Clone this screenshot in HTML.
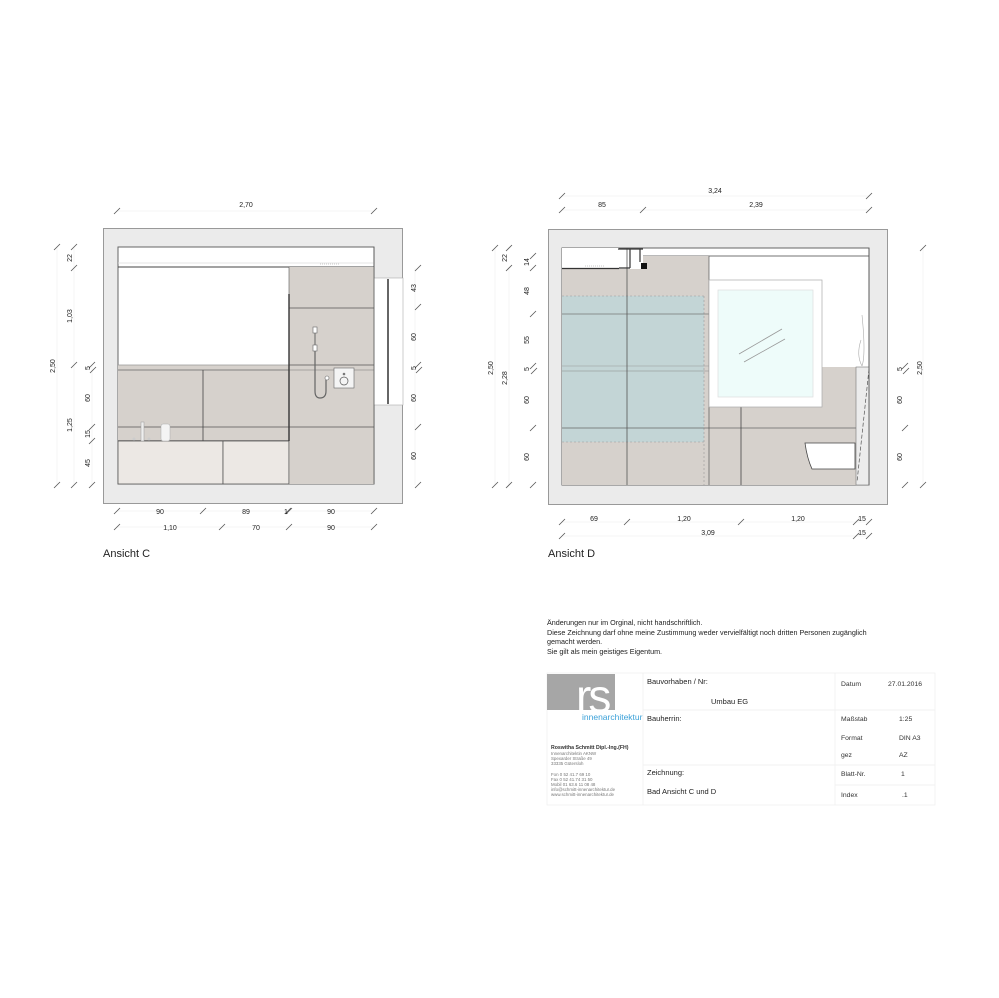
<!DOCTYPE html>
<html><head><meta charset="utf-8"><style>
html,body{margin:0;padding:0;background:#fff;}
svg{display:block;font-family:"Liberation Sans",sans-serif;}
</style></head><body>
<svg width="999" height="998" viewBox="0 0 999 998" xmlns="http://www.w3.org/2000/svg">
<rect width="999" height="998" fill="#fff"/>
<defs>
<g id="tk"><line x1="-3" y1="3" x2="3" y2="-3" stroke="#555" stroke-width="0.8"/></g>
</defs>

<!-- ===== ANSICHT C ===== -->
<g>
<!-- walls -->
<rect x="103.5" y="228.5" width="299" height="275" fill="#ebebeb" stroke="#999" stroke-width="1"/>
<rect x="118" y="247" width="256" height="237" fill="#fff" stroke="#666" stroke-width="1"/>
<rect x="374" y="278" width="29" height="127" fill="#fff" stroke="#aaa" stroke-width="0.6"/>
<line x1="388" y1="279" x2="388" y2="404" stroke="#333" stroke-width="1.5"/>
<!-- top strip -->
<line x1="118" y1="263" x2="374" y2="263" stroke="#ddd" stroke-width="0.8"/>
<line x1="118" y1="267" x2="374" y2="267" stroke="#444" stroke-width="1"/>
<!-- left tiles -->
<rect x="118" y="365" width="171" height="76" fill="#d6d1cc"/>
<line x1="118" y1="365" x2="289" y2="365" stroke="#999" stroke-width="0.8"/>
<line x1="118" y1="370" x2="289" y2="370" stroke="#666" stroke-width="0.8"/>
<line x1="118" y1="427" x2="289" y2="427" stroke="#555" stroke-width="0.8"/>
<line x1="203" y1="370" x2="203" y2="441" stroke="#444" stroke-width="0.8"/>
<line x1="118" y1="441" x2="289" y2="441" stroke="#333" stroke-width="1.2"/>
<!-- vanity -->
<rect x="118" y="441" width="105" height="43" fill="#ece8e4" stroke="#555" stroke-width="0.8"/>
<rect x="223" y="441" width="66" height="43" fill="#ece8e4" stroke="#555" stroke-width="0.8"/>
<!-- bottles / taps -->
<rect x="141" y="422" width="3" height="19" fill="#eee" stroke="#999" stroke-width="0.5"/>
<rect x="161" y="424" width="9" height="17" rx="2" fill="#f4f4f4" stroke="#aaa" stroke-width="0.5"/>
<circle cx="134" cy="439" r="1.5" fill="#ccc"/><circle cx="149" cy="439" r="1.5" fill="#ccc"/>
<!-- shower tiles -->
<rect x="289" y="267" width="85" height="217" fill="#d6d1cc"/>
<line x1="289" y1="308" x2="374" y2="308" stroke="#555" stroke-width="0.8"/>
<line x1="289" y1="365" x2="374" y2="365" stroke="#555" stroke-width="0.8"/>
<line x1="289" y1="370" x2="374" y2="370" stroke="#777" stroke-width="0.6"/>
<line x1="289" y1="427" x2="374" y2="427" stroke="#555" stroke-width="0.8"/>
<line x1="289" y1="294" x2="289" y2="441" stroke="#222" stroke-width="1.4"/>
<line x1="289" y1="267" x2="289" y2="484" stroke="#555" stroke-width="0.6"/>
<line x1="374" y1="247" x2="374" y2="484" stroke="#555" stroke-width="0.8"/>
<!-- shower fittings -->
<rect x="313" y="327" width="4" height="6" fill="#fff" stroke="#666" stroke-width="0.6"/>
<rect x="313" y="345" width="4" height="6" fill="#fff" stroke="#666" stroke-width="0.6"/>
<line x1="315" y1="333" x2="315" y2="345" stroke="#666" stroke-width="1"/>
<path d="M315 351 V391 Q315 398 320 398 Q326 398 326 391 V380" fill="none" stroke="#666" stroke-width="1.2"/>
<circle cx="327" cy="378" r="2" fill="#fff" stroke="#666" stroke-width="0.6"/>
<rect x="334" y="368" width="20" height="20" fill="#f4f4f4" stroke="#666" stroke-width="0.6"/>
<circle cx="344" cy="381" r="4" fill="none" stroke="#555" stroke-width="0.7"/>
<circle cx="344" cy="374" r="1.3" fill="#777"/>
<line x1="320" y1="264" x2="340" y2="264" stroke="#bbb" stroke-width="0.8" stroke-dasharray="1 1"/>
</g>

<!-- dims C -->
<g font-size="7" fill="#222" text-anchor="middle">
<line x1="117" y1="211" x2="374" y2="211" stroke="#eee" stroke-width="0.6"/>
<use href="#tk" x="117" y="211"/><use href="#tk" x="374" y="211"/>
<text x="246" y="207">2,70</text>
<line x1="117" y1="511" x2="374" y2="511" stroke="#eee" stroke-width="0.6"/>
<line x1="117" y1="527" x2="374" y2="527" stroke="#eee" stroke-width="0.6"/>
<use href="#tk" x="117" y="511"/><use href="#tk" x="203" y="511"/><use href="#tk" x="288" y="511"/><use href="#tk" x="289" y="511"/><use href="#tk" x="374" y="511"/>
<use href="#tk" x="117" y="527"/><use href="#tk" x="222" y="527"/><use href="#tk" x="289" y="527"/><use href="#tk" x="374" y="527"/>
<text x="160" y="514">90</text><text x="246" y="514">89</text><text x="286" y="514">1</text><text x="331" y="514">90</text>
<text x="170" y="530">1,10</text><text x="256" y="530">70</text><text x="331" y="530">90</text>
<line x1="57" y1="247" x2="57" y2="485" stroke="#eee" stroke-width="0.6"/>
<line x1="74" y1="247" x2="74" y2="485" stroke="#eee" stroke-width="0.6"/>
<line x1="92" y1="365" x2="92" y2="485" stroke="#eee" stroke-width="0.6"/>
<use href="#tk" x="57" y="247"/><use href="#tk" x="57" y="485"/>
<use href="#tk" x="74" y="247"/><use href="#tk" x="74" y="268"/><use href="#tk" x="74" y="365"/><use href="#tk" x="74" y="485"/>
<use href="#tk" x="92" y="365"/><use href="#tk" x="93" y="370"/><use href="#tk" x="92" y="427"/><use href="#tk" x="92" y="441"/><use href="#tk" x="92" y="485"/>
<text transform="translate(55,366) rotate(-90)">2,50</text>
<text transform="translate(72,258) rotate(-90)">22</text>
<text transform="translate(72,316) rotate(-90)">1,03</text>
<text transform="translate(72,425) rotate(-90)">1,25</text>
<text transform="translate(90,368) rotate(-90)">5</text>
<text transform="translate(90,398) rotate(-90)">60</text>
<text transform="translate(90,434) rotate(-90)">15</text>
<text transform="translate(90,463) rotate(-90)">45</text>
<line x1="415" y1="268" x2="415" y2="485" stroke="#eee" stroke-width="0.6"/>
<use href="#tk" x="418" y="268"/><use href="#tk" x="418" y="307"/><use href="#tk" x="418" y="365"/><use href="#tk" x="419" y="370"/><use href="#tk" x="418" y="427"/><use href="#tk" x="418" y="485"/>
<text transform="translate(416,288) rotate(-90)">43</text>
<text transform="translate(416,337) rotate(-90)">60</text>
<text transform="translate(416,368) rotate(-90)">5</text>
<text transform="translate(416,398) rotate(-90)">60</text>
<text transform="translate(416,456) rotate(-90)">60</text>
</g>
<text x="103" y="557" font-size="11" fill="#222">Ansicht C</text>

<!-- ===== ANSICHT D ===== -->
<g>
<rect x="548.5" y="229.5" width="339" height="275" fill="#ebebeb" stroke="#999" stroke-width="1"/>
<rect x="562" y="248" width="307" height="237" fill="#fff" stroke="#666" stroke-width="1"/>
<line x1="643" y1="256" x2="869" y2="256" stroke="#444" stroke-width="0.8"/>
<!-- tiles left area -->
<rect x="562" y="269" width="147" height="216" fill="#d6d1cc"/>
<rect x="643" y="256" width="66" height="13" fill="#d6d1cc"/>
<rect x="709" y="367" width="147" height="118" fill="#d6d1cc"/>
<!-- glass shower -->
<rect x="562" y="296" width="142" height="146" fill="#c3d5d6"/>
<line x1="562" y1="296" x2="704" y2="296" stroke="#999" stroke-width="0.6" stroke-dasharray="2 2"/>
<line x1="562" y1="442" x2="704" y2="442" stroke="#999" stroke-width="0.6" stroke-dasharray="2 2"/>
<line x1="704" y1="296" x2="704" y2="485" stroke="#999" stroke-width="0.6" stroke-dasharray="2 2"/>
<line x1="562" y1="314" x2="709" y2="314" stroke="#777" stroke-width="0.7"/>
<line x1="562" y1="366" x2="709" y2="366" stroke="#999" stroke-width="0.5"/>
<line x1="562" y1="371" x2="709" y2="371" stroke="#888" stroke-width="0.6"/>
<line x1="562" y1="428" x2="856" y2="428" stroke="#666" stroke-width="0.7"/>
<line x1="627" y1="248" x2="627" y2="485" stroke="#555" stroke-width="0.8"/>
<line x1="741" y1="407" x2="741" y2="485" stroke="#444" stroke-width="0.8"/>
<line x1="709" y1="256" x2="709" y2="485" stroke="#555" stroke-width="0.7"/>
<!-- top-left white box and beam -->
<rect x="562" y="248" width="57" height="21" fill="#fff"/>
<line x1="562" y1="268.5" x2="619" y2="268.5" stroke="#333" stroke-width="1.2"/>
<line x1="585" y1="266" x2="605" y2="266" stroke="#bbb" stroke-width="0.8" stroke-dasharray="1 1"/>
<path d="M618 249 H643 M630 249 V268 M640 249 V262 M630 268 H619" fill="none" stroke="#333" stroke-width="1.2"/>
<rect x="641" y="263" width="6" height="6" fill="#111"/>
<!-- window -->
<rect x="709" y="280" width="113" height="127" fill="#fff" stroke="#aaa" stroke-width="0.7"/>
<rect x="718" y="290" width="95" height="107" fill="#eefcfa" stroke="#ddd" stroke-width="0.7"/>
<line x1="739" y1="354" x2="782" y2="329" stroke="#999" stroke-width="0.8"/>
<line x1="744" y1="362" x2="785" y2="339" stroke="#999" stroke-width="0.8"/>
<!-- cabinet / toilet -->
<rect x="856" y="367" width="13" height="118" fill="#ececec" stroke="#777" stroke-width="0.6"/>
<line x1="869" y1="369" x2="857" y2="482" stroke="#555" stroke-width="0.7" stroke-dasharray="4 2"/>
<path d="M862 366 Q856 355 861 340 M862 366 Q866 355 862 315" fill="none" stroke="#aaa" stroke-width="0.6"/>
<path d="M805 443 H855 V469 H812 Q807 458 805 443 Z" fill="#fff" stroke="#444" stroke-width="0.8"/>
<line x1="869" y1="248" x2="869" y2="485" stroke="#555" stroke-width="0.8"/>
</g>

<!-- dims D -->
<g font-size="7" fill="#222" text-anchor="middle">
<line x1="562" y1="196" x2="869" y2="196" stroke="#eee" stroke-width="0.6"/>
<line x1="562" y1="210" x2="869" y2="210" stroke="#eee" stroke-width="0.6"/>
<use href="#tk" x="562" y="196"/><use href="#tk" x="869" y="196"/>
<use href="#tk" x="562" y="210"/><use href="#tk" x="643" y="210"/><use href="#tk" x="869" y="210"/>
<text x="715" y="193">3,24</text><text x="602" y="207">85</text><text x="756" y="207">2,39</text>
<line x1="562" y1="522" x2="869" y2="522" stroke="#eee" stroke-width="0.6"/>
<line x1="562" y1="536" x2="869" y2="536" stroke="#eee" stroke-width="0.6"/>
<use href="#tk" x="562" y="522"/><use href="#tk" x="627" y="522"/><use href="#tk" x="741" y="522"/><use href="#tk" x="856" y="522"/><use href="#tk" x="869" y="522"/>
<use href="#tk" x="562" y="536"/><use href="#tk" x="856" y="536"/><use href="#tk" x="869" y="536"/>
<text x="594" y="521">69</text><text x="684" y="521">1,20</text><text x="798" y="521">1,20</text><text x="862" y="521">15</text>
<text x="708" y="535">3,09</text><text x="862" y="535">15</text>
<line x1="495" y1="248" x2="495" y2="485" stroke="#eee" stroke-width="0.6"/>
<line x1="509" y1="268" x2="509" y2="485" stroke="#eee" stroke-width="0.6"/>
<use href="#tk" x="495" y="248"/><use href="#tk" x="495" y="485"/>
<use href="#tk" x="509" y="248"/><use href="#tk" x="509" y="268"/><use href="#tk" x="509" y="485"/>
<use href="#tk" x="533" y="256"/><use href="#tk" x="533" y="268"/><use href="#tk" x="533" y="314"/><use href="#tk" x="533" y="366"/><use href="#tk" x="534" y="371"/><use href="#tk" x="533" y="428"/><use href="#tk" x="533" y="485"/>
<text transform="translate(493,368) rotate(-90)">2,50</text>
<text transform="translate(507,258) rotate(-90)">22</text>
<text transform="translate(507,378) rotate(-90)">2,28</text>
<text transform="translate(529,262) rotate(-90)">14</text>
<text transform="translate(529,291) rotate(-90)">48</text>
<text transform="translate(529,340) rotate(-90)">55</text>
<text transform="translate(529,369) rotate(-90)">5</text>
<text transform="translate(529,400) rotate(-90)">60</text>
<text transform="translate(529,457) rotate(-90)">60</text>
<line x1="923" y1="248" x2="923" y2="485" stroke="#eee" stroke-width="0.6"/>
<use href="#tk" x="923" y="248"/><use href="#tk" x="923" y="485"/>
<use href="#tk" x="905" y="366"/><use href="#tk" x="906" y="371"/><use href="#tk" x="905" y="428"/><use href="#tk" x="905" y="485"/>
<text transform="translate(922,368) rotate(-90)">2,50</text>
<text transform="translate(902,369) rotate(-90)">5</text>
<text transform="translate(902,400) rotate(-90)">60</text>
<text transform="translate(902,457) rotate(-90)">60</text>
</g>
<text x="548" y="557" font-size="11" fill="#222">Ansicht D</text>

<!-- ===== notes ===== -->
<g font-size="7.2" fill="#222">
<text x="547" y="625">Änderungen nur im Orginal, nicht handschriftlich.</text>
<text x="547" y="635">Diese Zeichnung darf ohne meine Zustimmung weder vervielfältigt noch dritten Personen zugänglich</text>
<text x="547" y="644">gemacht werden.</text>
<text x="547" y="654">Sie gilt als mein geistiges Eigentum.</text>
</g>

<!-- ===== title block ===== -->
<g stroke="#eee" stroke-width="0.7" fill="none">
<rect x="547" y="673" width="388" height="132"/>
<line x1="643" y1="673" x2="643" y2="805"/>
<line x1="835" y1="673" x2="835" y2="805"/>
<line x1="643" y1="710" x2="935" y2="710"/>
<line x1="643" y1="765" x2="935" y2="765"/>
<line x1="835" y1="785" x2="935" y2="785"/>
</g>
<rect x="547" y="674" width="68" height="36" fill="#a6a6a6"/>
<text x="576" y="712" font-size="46" fill="#fff" letter-spacing="-3" font-family="Liberation Sans,sans-serif">rs</text>
<text x="582" y="720" font-size="8.5" fill="#3aa0d8">innenarchitektur</text>
<g fill="#333">
<text x="551" y="749" font-size="5.2" font-weight="bold">Roswitha Schmitt Dipl.-Ing.(FH)</text>
<g font-size="4.4" fill="#777">
<text x="551" y="755">Innenarchitektin AKNW</text>
<text x="551" y="760">Spexarder Straße 49</text>
<text x="551" y="765">33335 Gütersloh</text>
<text x="551" y="776">Fon    0 52 41.7 69 10</text>
<text x="551" y="781">Fax    0 52 41.74 31 50</text>
<text x="551" y="786">Mobil  01 63.6 11 08 48</text>
<text x="551" y="791">info@schmitt-innenarchitektur.de</text>
<text x="551" y="796">www.schmitt-innenarchitektur.de</text>
</g>
</g>
<g font-size="7.5" fill="#222">
<text x="647" y="684">Bauvorhaben / Nr:</text>
<text x="711" y="704">Umbau EG</text>
<text x="647" y="721">Bauherrin:</text>
<text x="647" y="775">Zeichnung:</text>
<text x="647" y="794">Bad Ansicht C und D</text>
</g>
<g font-size="6.8" fill="#333">
<text x="841" y="686">Datum</text><text x="888" y="686">27.01.2016</text>
<text x="841" y="721">Maßstab</text><text x="899" y="721">1:25</text>
<text x="841" y="740">Format</text><text x="899" y="740">DIN A3</text>
<text x="841" y="757">gez</text><text x="899" y="757">AZ</text>
<text x="841" y="776">Blatt-Nr.</text><text x="901" y="776">1</text>
<text x="841" y="797">Index</text><text x="902" y="797">.1</text>
</g>
</svg>
</body></html>
